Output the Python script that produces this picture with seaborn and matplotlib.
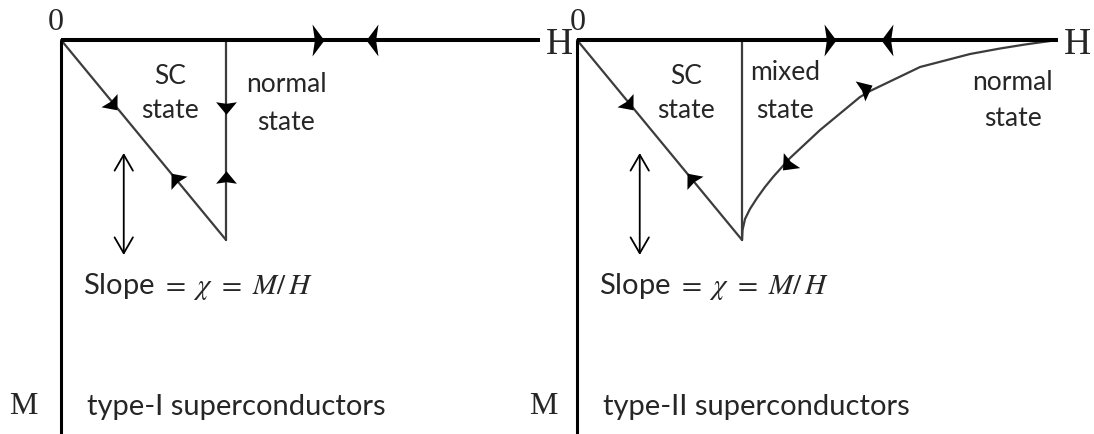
import numpy as np
import pandas as pd
import matplotlib
matplotlib.use("Agg")
import matplotlib.pyplot as plt
from matplotlib.path import Path
from matplotlib.markers import MarkerStyle
from matplotlib.transforms import Affine2D
import seaborn as sns

sns.set_theme(style="white")
plt.rcParams["font.family"] = ["Lato", "DejaVu Sans"]
plt.rcParams["mathtext.fontset"] = "stix"

# H in units of the (lower) critical field, M in units of -Hc
h_axis_end = [2.903, 2.915]
sc_h = [0.0, 1.0]
sc_m = [0.0, -1.0]
hc_h = [1.0, 1.0]
hc_m = [0.0, -1.0]
mixed_h = [1.0, 1.003, 1.018, 1.048, 1.091, 1.139, 1.188, 1.291, 1.473, 1.715,
           1.776, 2.079, 2.382, 2.564, 2.715, 2.867]
mixed_m = [-1.0, -0.95, -0.895, -0.845, -0.79, -0.735, -0.685, -0.59, -0.45, -0.285,
           -0.255, -0.135, -0.07, -0.0425, -0.0225, -0.005]
panel_titles = ["type-I superconductors", "type-II superconductors"]
slope_label = r"Slope $=\ \chi\ =\ M/\,H$"

BLACK = "#000000"
LINE = "#3c3c3c"


def head_marker(length, width, notch=0.0):
    """Arrowhead path pointing along +x."""
    verts = [(length / 2, 0), (-length / 2, width / 2), (-length / 2 + notch, 0),
             (-length / 2, -width / 2), (length / 2, 0)]
    codes = [Path.MOVETO, Path.LINETO, Path.LINETO, Path.LINETO, Path.CLOSEPOLY]
    return Path(verts, codes)


def arrowhead(ax, h, m, dh, dm, size, shape):
    p0 = ax.transData.transform((h, m))
    p1 = ax.transData.transform((h + dh, m + dm))
    ang = np.degrees(np.arctan2(p1[1] - p0[1], p1[0] - p0[0]))
    mk = MarkerStyle(shape, transform=Affine2D().rotate_deg(ang))
    ax.plot([h], [m], marker=mk, markersize=size, color=BLACK, linestyle="none",
            markeredgewidth=0, zorder=5)


fig = plt.figure(figsize=(10.94, 4.34), dpi=100)
ax1 = fig.add_axes([0.0, 0.0, 0.5, 1.0])
ax2 = fig.add_axes([0.5, 0.0, 0.5, 1.0])
ax1.set_xlim(-0.370, 2.945)
ax2.set_xlim(-0.182, 3.133)
for ax in (ax1, ax2):
    ax.set_ylim(-1.97, 0.2)
    ax.set_axis_off()

tall_head = head_marker(0.75, 2.0, 0.15)
flat_head = head_marker(1.2, 2.0, 0.15)

zero_x = [-0.03, 0.005]
m_x = [-0.145, -0.115]

for i, ax in enumerate((ax1, ax2)):
    # axes of the M-H diagram
    ax.plot([0, h_axis_end[i]], [0, 0], color=BLACK, lw=2.9, solid_capstyle="butt", zorder=3)
    ax.plot([0, 0], [0, -2.2], color=BLACK, lw=2.2, solid_capstyle="butt", zorder=3)
    # Meissner line and critical field
    sns.lineplot(x=sc_h, y=sc_m, ax=ax, color=LINE, lw=1.6, sort=False, estimator=None)
    sns.lineplot(x=hc_h, y=hc_m, ax=ax, color=LINE, lw=1.6, sort=False, estimator=None)

    ax.text(zero_x[i], 0.05, "0", family="Liberation Serif", fontsize=23, ha="center",
            va="baseline")
    ax.text(h_axis_end[i] + 0.035, -0.025, "H", family="Liberation Serif", fontsize=27,
            ha="left", va="center")
    ax.text(m_x[i], -1.835, "M", family="Liberation Serif", fontsize=23, ha="right", va="center")

    ax.text(0.66, -0.18, "SC", fontsize=19, ha="center", va="center")
    ax.text(0.66, -0.35, "state", fontsize=19, ha="center", va="center")

    ax.annotate("", xy=(0.38, -0.565), xytext=(0.38, -1.075),
                arrowprops=dict(arrowstyle="<->,head_length=0.95,head_width=0.55",
                                lw=1.3, color=BLACK, shrinkA=0, shrinkB=0))
    ax.text(0.135, -1.235, slope_label, fontsize=21, ha="left", va="center")
    ax.text(0.16, -1.835, panel_titles[i], fontsize=21, ha="left", va="center")

    # arrows on the Meissner line (down on increasing field, up on return)
    arrowhead(ax, 0.315, -0.325, 1, -1, 15, flat_head)
    arrowhead(ax, 0.69, -0.69, -1, 1, 15, flat_head)

# type I: jump at Hc
ax1.text(1.365, -0.225, "normal", fontsize=19, ha="center", va="center")
ax1.text(1.365, -0.41, "state", fontsize=19, ha="center", va="center")
arrowhead(ax1, 1.0, -0.34, 0, -1, 15, flat_head)
arrowhead(ax1, 1.0, -0.685, 0, 1, 15, flat_head)
arrowhead(ax1, 1.56, 0.0, 1, 0, 23, tall_head)
arrowhead(ax1, 1.885, 0.0, -1, 0, 23, tall_head)

# type II: mixed state between Hc1 and Hc2
sns.lineplot(x=mixed_h, y=mixed_m, ax=ax2, color=LINE, lw=1.6, sort=False, estimator=None)
ax2.text(1.26, -0.165, "mixed", fontsize=19, ha="center", va="center")
ax2.text(1.26, -0.35, "state", fontsize=19, ha="center", va="center")
ax2.text(2.64, -0.21, "normal", fontsize=19, ha="center", va="center")
ax2.text(2.64, -0.39, "state", fontsize=19, ha="center", va="center")
arrowhead(ax2, 1.273, -0.625, -0.1, -0.09, 16, flat_head)
arrowhead(ax2, 1.752, -0.24, 0.1, 0.04, 16, flat_head)
arrowhead(ax2, 1.533, 0.0, 1, 0, 23, tall_head)
arrowhead(ax2, 1.879, 0.0, -1, 0, 23, tall_head)

fig.savefig("out.png", dpi=100, facecolor="white")
